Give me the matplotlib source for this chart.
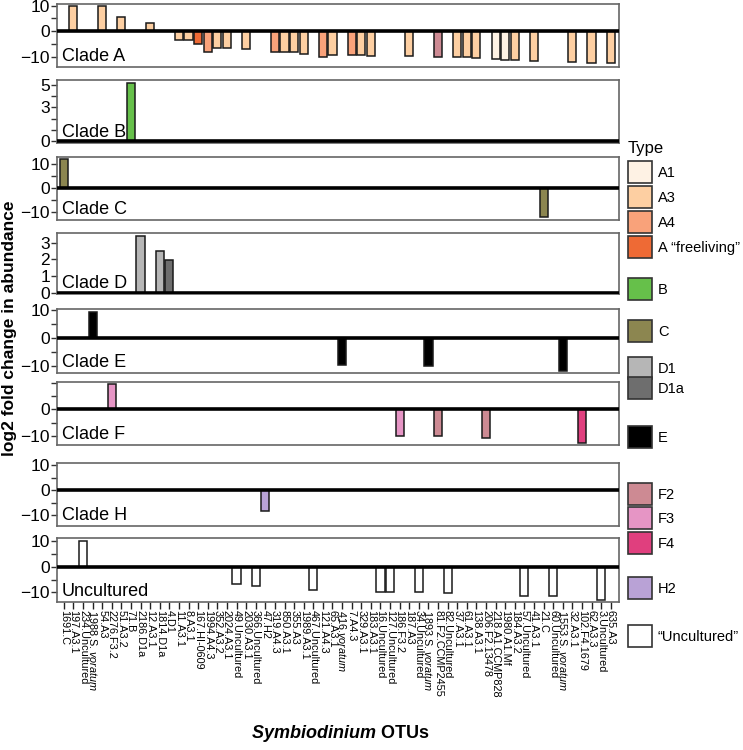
import matplotlib
matplotlib.use('Agg')
import matplotlib.pyplot as plt
from matplotlib.patches import Rectangle

plt.rcParams['font.family'] = ['Liberation Sans', 'DejaVu Sans']
plt.rcParams['mathtext.fontset'] = 'custom'
plt.rcParams['mathtext.rm'] = 'Liberation Sans'
plt.rcParams['mathtext.it'] = 'Liberation Sans:italic'
plt.rcParams['mathtext.bf'] = 'Liberation Sans:italic:bold'

V = r'$\mathit{voratum}$'
otu_labels = [
    '1691.C', '197.A3.1', '234.Uncultured', '1988.S. ' + V, '54.A3', '2276.F3.2',
    '51.A3.2', '71.B', '2186.D1a', '12.A3.1', '1814.D1a', '4.D1', '11.A3.1',
    '8.A3.1', '167.HI-0609', '1994.A4.3', '352.A3.2', '2024.A3.1', '49.Uncultured',
    '2030.A3.1', '366.Uncultured', '47.H2', '319.A4.3', '850.A3.1', '355.A3',
    '1989.A3.1', '467.Uncultured', '121.A4.3', '65.A3.1', '416.' + V, '7.A4.3',
    '329.A3.1', '183.A3.1', '16.Uncultured', '127.Uncultured', '186.F3.2', '187.A3',
    '34.Uncultured', '1893.S. ' + V, '81.F2.CCMP2455', '82.Uncultured', '37.A3.1',
    '61.A3.1', '138.A3.1', '206.F2.13478', '218.A1.CCMP828', '1980.A1.Mf',
    '184.A3.2', '57.Uncultured', '41.A3.1', '21.C', '60.Uncultured',
    '1553.S. ' + V, '32.A3.1', '102.F4.1679', '62.A3.3', '3.Uncultured', '635.A3',
]

type_names = ['A1', 'A3', 'A4', 'A \u201cfreeliving\u201d', 'B', 'C', 'D1', 'D1a',
              'E', 'F2', 'F3', 'F4', 'H2', '\u201cUncultured\u201d']
type_keys = ['A1', 'A3', 'A4', 'Af', 'B', 'C', 'D1', 'D1a', 'E', 'F2', 'F3', 'F4', 'H2', 'U']
type_colors = {
    'A1': '#FEF2E4', 'A3': '#FDCFA2', 'A4': '#F9A27A', 'Af': '#EE6A35',
    'B': '#66C04A', 'C': '#8C8650', 'D1': '#B6B6B6', 'D1a': '#6E6E6E',
    'E': '#000000', 'F2': '#CD8A93', 'F3': '#E695C5', 'F4': '#E03F7E',
    'H2': '#B9A2D6', 'U': '#FFFFFF',
}

clade_A_otus = [1, 4, 6, 9, 12, 13, 14, 15, 16, 17, 19, 22, 23, 24, 25, 27, 28, 30,
                31, 32, 36, 39, 41, 42, 43, 45, 46, 47, 49, 53, 55, 57]
clade_A_values = [9.8, 9.8, 5.5, 3.3, -3.5, -3.6, -5.2, -8.1, -6.8, -6.8, -7.2, -8.1,
                  -8.1, -8.1, -9.1, -10.1, -9.4, -9.4, -9.4, -9.8, -9.8, -10.0, -10.1,
                  -10.1, -10.7, -11.0, -11.4, -11.4, -11.6, -12.3, -12.7, -12.7]
clade_A_types = ['A3', 'A3', 'A3', 'A3', 'A3', 'A3', 'Af', 'A4', 'A3', 'A3', 'A3', 'A4',
                 'A3', 'A3', 'A3', 'A4', 'A3', 'A4', 'A3', 'A3', 'A3', 'F2', 'A3', 'A3',
                 'A3', 'A1', 'A1', 'A3', 'A3', 'A3', 'A3', 'A3']

clade_B_otus = [7]
clade_B_values = [5.2]
clade_B_types = ['B']

clade_C_otus = [0, 50]
clade_C_values = [11.8, -12.3]
clade_C_types = ['C', 'C']

clade_D_otus = [8, 10, 11]
clade_D_values = [3.37, 2.48, 1.95]
clade_D_types = ['D1', 'D1', 'D1a']

clade_E_otus = [3, 29, 38, 52]
clade_E_values = [9.5, -9.7, -10.1, -11.8]
clade_E_types = ['E', 'E', 'E', 'E']

clade_F_otus = [5, 35, 39, 44, 54]
clade_F_values = [9.4, -9.9, -9.9, -10.7, -12.4]
clade_F_types = ['F3', 'F3', 'F2', 'F2', 'F4']

clade_H_otus = [21]
clade_H_values = [-8.2]
clade_H_types = ['H2']

unc_otus = [2, 18, 20, 26, 33, 34, 37, 40, 48, 51, 56]
unc_values = [9.8, -6.8, -7.6, -9.1, -9.8, -9.8, -9.9, -10.3, -11.4, -11.4, -12.8]
unc_types = ['U'] * 11

panels = [
    ('Clade A', clade_A_otus, clade_A_values, clade_A_types, (4, 67), (-14.1, 10.6),
     [-10, -5, 0, 5, 10], ['\u221210', '', '0', '', '10']),
    ('Clade B', clade_B_otus, clade_B_values, clade_B_types, (80, 143), (-0.17, 5.44),
     [0, 1, 2, 3, 4, 5], ['0', '', '', '3', '', '5']),
    ('Clade C', clade_C_otus, clade_C_values, clade_C_types, (157, 220), (-13.5, 12.8),
     [-10, -5, 0, 5, 10], ['\u221210', '', '0', '', '10']),
    ('Clade D', clade_D_otus, clade_D_values, clade_D_types, (233, 294), (-0.06, 3.57),
     [0, 1, 2, 3], ['0', '1', '2', '3']),
    ('Clade E', clade_E_otus, clade_E_values, clade_E_types, (309, 373), (-12.5, 10.5),
     [-10, -5, 0, 5, 10], ['\u221210', '', '0', '', '10']),
    ('Clade F', clade_F_otus, clade_F_values, clade_F_types, (382, 445), (-13.3, 10.3),
     [-10, -5, 0, 5, 10], ['\u221210', '', '0', '', '']),
    ('Clade H', clade_H_otus, clade_H_values, clade_H_types, (463, 526), (-14.2, 10.8),
     [-10, -5, 0, 5, 10], ['\u221210', '', '0', '', '10']),
    ('Uncultured', unc_otus, unc_values, unc_types, (538, 602), (-13.7, 11.1),
     [-10, -5, 0, 5, 10], ['\u221210', '', '0', '', '10']),
]

W, H = 743, 750
fig = plt.figure(figsize=(W / 100, H / 100), dpi=100)
x0, x1 = 57, 619
n = len(otu_labels)

for k, (name, otus, vals, types, (ptop, pbot), ylim, yt, ytl) in enumerate(panels):
    ax = fig.add_axes([x0 / W, 1 - pbot / H, (x1 - x0) / W, (pbot - ptop) / H])
    ax.bar(otus, vals, width=0.85, color=[type_colors[t] for t in types],
           edgecolor='#1a1a1a', linewidth=1.1, zorder=2)
    ax.axhline(0, color='black', lw=2.6, zorder=3)
    ax.set_xlim(-0.71, n - 0.14)
    ax.set_ylim(*ylim)
    ax.set_yticks(yt)
    ax.set_yticklabels(ytl, fontsize=12.5)
    ax.tick_params(axis='y', direction='out', length=4, width=1, pad=1, color='#333333')
    for s in ax.spines.values():
        s.set_color('#666666')
        s.set_linewidth(1.2)
    ax.annotate(name, xy=(0, 0), xycoords='axes fraction', xytext=(3.6, 4.2),
                textcoords='offset points', fontsize=13, ha='left', va='baseline')
    if k == len(panels) - 1:
        ax.set_xticks(range(n))
        ax.set_xticklabels(otu_labels, rotation=270, fontsize=7.8, va='top', ha='center',
                           rotation_mode='default')
        ax.tick_params(axis='x', direction='out', length=5, width=1, pad=1, color='#222222')
    else:
        ax.set_xticks([])

fig.text(10 / W, 1 - 328 / H, 'log2 fold change in abundance', rotation=90,
         fontsize=12.5, fontweight='bold', ha='center', va='center')
fig.text(340 / W, 1 - 733 / H, r'$\mathbf{Symbiodinium}$ OTUs', fontsize=13,
         fontweight='bold', ha='center', va='center')

# legend
lax = fig.add_axes([620 / W, 0, (W - 620) / W, 1])
lax.set_xlim(620, W)
lax.set_ylim(H, 0)
lax.axis('off')
lax.text(628, 148, 'Type', fontsize=12, ha='left', va='center')
legend_y = [172, 197, 222, 247, 289, 331, 368, 388, 437, 494, 518, 543, 588, 636]
for key, label, cy in zip(type_keys, type_names, legend_y):
    lax.add_patch(Rectangle((628, cy - 11), 24, 22, facecolor=type_colors[key],
                            edgecolor='#333333', lw=1.2))
    lax.text(658, cy + 1, label, fontsize=10.5, ha='left', va='center')

fig.savefig('out.png', dpi=100)
